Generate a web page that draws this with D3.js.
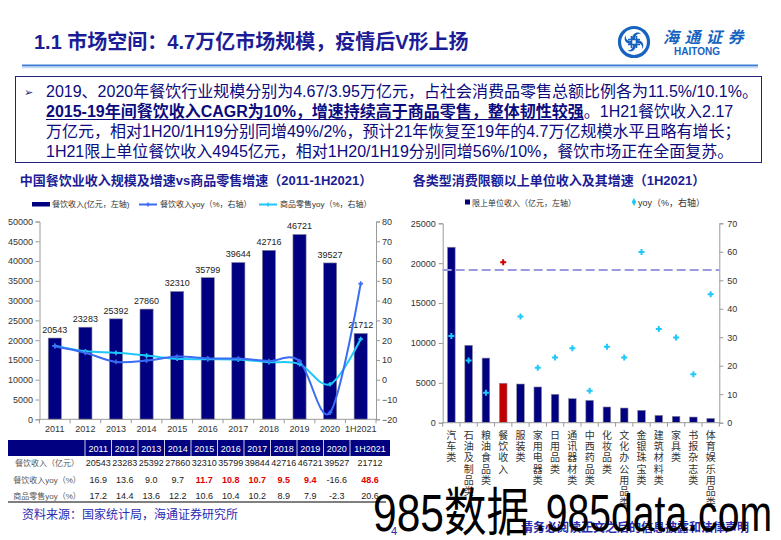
<!DOCTYPE html>
<html><head><meta charset="utf-8">
<script src="https://cdn.jsdelivr.net/npm/d3@7"></script>
<style>
html,body{margin:0;padding:0;background:#fff;}
svg{display:block;}
</style></head>
<body>
<svg id="c" width="781" height="540"></svg>
<script>
// ---------- DATA ----------
const years = ["2011","2012","2013","2014","2015","2016","2017","2018","2019","2020","1H2021"];
const revenue = [20543, 23283, 25392, 27860, 32310, 35799, 39644, 42716, 46721, 39527, 21712];
const revenueTable = ["20543","23283","25392","27860","32310","35799","39844","42716","46721","39527","21712"];
const cateringYoy = [16.9, 13.6, 9.0, 9.7, 11.7, 10.8, 10.7, 9.5, 9.4, -16.6, 48.6];
const retailYoy = [17.2, 14.4, 13.6, 12.2, 10.6, 10.4, 10.2, 8.9, 7.9, -2.3, 20.6];
const cateringYoyRed = [false,false,false,false,true,true,true,true,true,false,true];
const leftAxisTicks = [0,5000,10000,15000,20000,25000,30000,35000,40000,45000,50000];
const rightAxisTicks = [-20,-10,0,10,20,30,40,50,60,70,80];

const categories = ["汽车类","石油及制品类","粮油食品类","餐饮收入","服装类","家用电器类","日用品类","通讯器材类","中西药品类","化妆品类","文化办公用品类","金银珠宝类","建筑材料类","家具类","书报杂志类","体育娱乐用品类"];
const unitRevenue = [22000, 9700, 8100, 4945, 4850, 4480, 3560, 3010, 2800, 1970, 1840, 1550, 920, 800, 710, 540];
const unitYoy = [30.4, 21.8, 10.5, 56.3, 37.3, 19.3, 22.9, 26.1, 11.2, 26.7, 22.9, 59.9, 32.9, 29.9, 17.0, 45.1];
const highlightCategory = "餐饮收入";
const refLineYoy = 53.6;
const unitLeftTicks = [0,5000,10000,15000,20000,25000];
const unitRightTicks = [0,10,20,30,40,50,60,70];

const paragraphLines = [
  "2019、2020年餐饮行业规模分别为4.67/3.95万亿元，占社会消费品零售总额比例各为11.5%/10.1%。",
  ["2015-19年间餐饮收入CAGR为10%，增速持续高于商品零售，整体韧性较强", "。1H21餐饮收入2.17"],
  "万亿元，相对1H20/1H19分别同增49%/2%，预计21年恢复至19年的4.7万亿规模水平且略有增长；",
  "1H21限上单位餐饮收入4945亿元，相对1H20/1H19分别同增56%/10%，餐饮市场正在全面复苏。"
];

// ---------- STYLE ----------
const FONT = "'Liberation Sans', Arial, 'Noto Sans CJK SC', sans-serif";
const NAVY = "#0b0b7e";
const TITLE = "#1c1c96";
const BAR = "#000080";
const LINE1 = "#3a6cf4";
const LINE2 = "#1ec8fa";
const AX = "#9a9a9a";
const fmt = d3.format("d");

const svg = d3.select("#c").style("font-family", FONT);

// ---------- HEADER ----------
svg.append("text").attr("x", 34).attr("y", 49).attr("font-size", 20).attr("font-weight", "bold")
  .attr("fill", TITLE).text("1.1 市场空间：4.7万亿市场规模，疫情后V形上扬");

// logo
const logo = svg.append("g").attr("transform", "translate(634,42)");
logo.append("circle").attr("r", 14.5).attr("fill", "none").attr("stroke", "#1763c0").attr("stroke-width", 3.2);
[0, 90, 180, 270].forEach(a => {
  logo.append("path").attr("transform", `rotate(${a})`)
    .attr("d", "M-2,-3 C-2,-9 4,-11 7,-8 C4,-9 1,-7 1,-3 Z").attr("fill", "#1763c0");
});
logo.append("path").attr("d", "M-6,-2.5H6M-6,2.5H6M-2.5,-6V6M2.5,-6V6").attr("stroke", "#1763c0").attr("stroke-width", 1.6);
svg.append("text").attr("x", 663).attr("y", 43).attr("font-size", 16).attr("font-weight", "bold")
  .attr("font-style", "italic").attr("letter-spacing", 5.5).attr("fill", "#1763c0").text("海通证券");
svg.append("text").attr("x", 697).attr("y", 55).attr("text-anchor", "middle").attr("font-size", 10)
  .attr("font-weight", "bold").attr("fill", "#1763c0").text("HAITONG");

// rule under title
svg.append("line").attr("x1", 22).attr("x2", 758).attr("y1", 65.5).attr("y2", 65.5).attr("stroke", "#3f7fd6").attr("stroke-width", 2);
svg.append("line").attr("x1", 22).attr("x2", 758).attr("y1", 67.5).attr("y2", 67.5).attr("stroke", "#c6dcf5").attr("stroke-width", 1.5);

// ---------- PARAGRAPH BOX ----------
svg.append("rect").attr("x", 15.5).attr("y", 76.5).attr("width", 746).attr("height", 86)
  .attr("fill", "none").attr("stroke", "#22227a").attr("stroke-width", 1);
svg.append("text").attr("x", 24).attr("y", 96).attr("font-size", 11).attr("fill", "#22227a").text("➢");
const PFS = 16;
const lineY = [97, 117, 137, 157];
paragraphLines.forEach((ln, i) => {
  if (typeof ln === "string") {
    svg.append("text").attr("x", 46).attr("y", lineY[i]).attr("font-size", PFS).attr("fill", NAVY).text(ln);
  } else {
    const b = svg.append("text").attr("x", 46).attr("y", lineY[i]).attr("font-size", PFS)
      .attr("font-weight", "bold").attr("fill", NAVY).text(ln[0]);
    const w = b.node().getComputedTextLength();
    svg.append("line").attr("x1", 46).attr("x2", 46 + w).attr("y1", lineY[i] + 2.5).attr("y2", lineY[i] + 2.5)
      .attr("stroke", NAVY).attr("stroke-width", 1.2);
    svg.append("text").attr("x", 46 + w).attr("y", lineY[i]).attr("font-size", PFS).attr("fill", NAVY).text(ln[1]);
  }
});

// ---------- LEFT CHART ----------
svg.append("text").attr("x", 196).attr("y", 185).attr("text-anchor", "middle").attr("font-size", 13)
  .attr("font-weight", "bold").attr("fill", TITLE).text("中国餐饮业收入规模及增速vs商品零售增速（2011-1H2021）");

// legend
const lg = svg.append("g").attr("font-size", 8).attr("fill", "#333");
lg.append("rect").attr("x", 32).attr("y", 202).attr("width", 18).attr("height", 4.5).attr("fill", BAR);
lg.append("text").attr("x", 52).attr("y", 207).text("餐饮收入(亿元，左轴)");
lg.append("line").attr("x1", 139).attr("x2", 157).attr("y1", 204.5).attr("y2", 204.5).attr("stroke", LINE1).attr("stroke-width", 2);
lg.append("path").attr("d", d3.symbol(d3.symbolCross, 10)()).attr("transform", "translate(148,204.5)").attr("fill", LINE1);
lg.append("text").attr("x", 160).attr("y", 207).text("餐饮收入yoy（%，右轴）");
lg.append("line").attr("x1", 259).attr("x2", 277).attr("y1", 204.5).attr("y2", 204.5).attr("stroke", LINE2).attr("stroke-width", 2);
lg.append("path").attr("d", d3.symbol(d3.symbolCross, 10)()).attr("transform", "translate(268,204.5)").attr("fill", LINE2);
lg.append("text").attr("x", 280).attr("y", 207).text("商品零售yoy（%，右轴）");

const L = {x0: 39.5, x1: 376, y0: 419.3, y1: 221.5};
const xL = d3.scaleBand().domain(years).range([L.x0, L.x1]).paddingInner(0.57).paddingOuter(0.285);
const yL = d3.scaleLinear().domain([0, 50000]).range([L.y0, L.y1]);
const yR = d3.scaleLinear().domain([-20, 80]).range([L.y0, L.y1]);

function styleAxis(g) {
  g.select(".domain").attr("stroke", AX);
  g.selectAll(".tick line").attr("stroke", AX);
  g.selectAll(".tick text").attr("fill", "#333").attr("font-size", 9).attr("font-family", FONT);
}
svg.append("g").attr("transform", `translate(${L.x0},0)`)
  .call(d3.axisLeft(yL).tickValues(leftAxisTicks).tickFormat(fmt).tickSize(4).tickPadding(2.5).tickSizeOuter(4)).call(styleAxis);
svg.append("g").attr("transform", `translate(${L.x1},0)`)
  .call(d3.axisRight(yR).tickValues(rightAxisTicks).tickFormat(fmt).tickSize(4).tickPadding(2).tickSizeOuter(4)).call(styleAxis);

// bars
svg.append("g").selectAll("rect").data(revenue).join("rect")
  .attr("x", (d, i) => xL(years[i])).attr("width", xL.bandwidth())
  .attr("y", d => yL(d)).attr("height", d => yL(0) - yL(d))
  .attr("fill", BAR).attr("stroke", "#8a8a9a").attr("stroke-width", 0.6);
svg.append("g").selectAll("text").data(revenue).join("text")
  .attr("x", (d, i) => xL(years[i]) + xL.bandwidth() / 2).attr("y", d => yL(d) - 5)
  .attr("text-anchor", "middle").attr("font-size", 9).attr("fill", "#222").text(d => d);

// x axis
svg.append("line").attr("x1", L.x0).attr("x2", L.x1).attr("y1", L.y0).attr("y2", L.y0).attr("stroke", AX);
const stepL = xL.step();
years.forEach((y, i) => {
  const bx = xL(y) - xL.paddingInner() * stepL / 2;
  svg.append("line").attr("x1", bx).attr("x2", bx).attr("y1", L.y0).attr("y2", L.y0 + 4).attr("stroke", AX);
  svg.append("text").attr("x", xL(y) + xL.bandwidth() / 2).attr("y", L.y0 + 12.5).attr("text-anchor", "middle")
    .attr("font-size", 9).attr("fill", "#333").text(y);
});
svg.append("line").attr("x1", L.x1).attr("x2", L.x1).attr("y1", L.y0).attr("y2", L.y0 + 4).attr("stroke", AX);

// lines
const lineGen = d3.line().x((d, i) => xL(years[i]) + xL.bandwidth() / 2).y(d => yR(d)).curve(d3.curveCatmullRom.alpha(0));
svg.append("path").datum(retailYoy).attr("d", lineGen).attr("fill", "none").attr("stroke", LINE2).attr("stroke-width", 2);
svg.append("path").datum(cateringYoy).attr("d", lineGen).attr("fill", "none").attr("stroke", LINE1).attr("stroke-width", 2);
[[retailYoy, LINE2], [cateringYoy, LINE1]].forEach(([arr, col]) => {
  svg.append("g").selectAll("path").data(arr).join("path")
    .attr("d", d3.symbol(d3.symbolCross, 12)())
    .attr("transform", (d, i) => `translate(${xL(years[i]) + xL.bandwidth() / 2},${yR(d)})`).attr("fill", col);
});

// table
const T = {x0: 8, labelEnd: 85, colW: 26.5, lastEnd: 390, hy: 440, hh: 16};
const colX = i => i < 10 ? T.labelEnd + i * T.colW : T.labelEnd + 10 * T.colW;
const colW = i => i < 10 ? T.colW : T.lastEnd - colX(10);
svg.append("rect").attr("x", T.x0).attr("y", T.hy).attr("width", T.lastEnd - T.x0).attr("height", T.hh).attr("fill", BAR);
years.forEach((y, i) => {
  svg.append("line").attr("x1", colX(i)).attr("x2", colX(i)).attr("y1", T.hy).attr("y2", T.hy + T.hh).attr("stroke", "#ffffff").attr("stroke-width", 0.8);
  svg.append("text").attr("x", colX(i) + colW(i) / 2).attr("y", T.hy + 11.5).attr("text-anchor", "middle")
    .attr("font-size", 9).attr("fill", "#fff").text(y);
});
const rowLabels = ["餐饮收入（亿元）", "餐饮收入yoy（%）", "商品零售yoy（%）"];
const rowData = [revenueTable, cateringYoy.map(v => v.toFixed(1)), retailYoy.map(v => v.toFixed(1))];
const rowY = [466, 483, 499];
rowLabels.forEach((lab, r) => {
  svg.append("text").attr("x", 47).attr("y", rowY[r]).attr("text-anchor", "middle").attr("font-size", 8).attr("fill", "#555").text(lab);
  rowData[r].forEach((v, i) => {
    const red = r === 1 && cateringYoyRed[i];
    svg.append("text").attr("x", colX(i) + colW(i) / 2).attr("y", rowY[r]).attr("text-anchor", "middle")
      .attr("font-size", 9).attr("font-weight", red ? "bold" : "normal").attr("fill", red ? "#e00000" : "#222").text(v);
  });
});
svg.append("line").attr("x1", T.x0).attr("x2", 386).attr("y1", 502).attr("y2", 502).attr("stroke", "#000").attr("stroke-width", 1.2);

svg.append("text").attr("x", 22).attr("y", 519).attr("font-size", 12).attr("fill", "#2b2bb0").text("资料来源：国家统计局，海通证券研究所");

// ---------- RIGHT CHART ----------
svg.append("text").attr("x", 559).attr("y", 185).attr("text-anchor", "middle").attr("font-size", 13)
  .attr("font-weight", "bold").attr("fill", TITLE).text("各类型消费限额以上单位收入及其增速（1H2021）");
const rg = svg.append("g").attr("font-size", 8).attr("fill", "#333");
rg.append("rect").attr("x", 465).attr("y", 199.5).attr("width", 5).attr("height", 5).attr("fill", BAR);
rg.append("text").attr("x", 472).attr("y", 205.5).text("限上单位收入（亿元，左轴）");
rg.append("path").attr("d", d3.symbol(d3.symbolDiamond, 18)()).attr("transform", "translate(634,202)").attr("fill", LINE2);
rg.append("text").attr("x", 638).attr("y", 205.5).attr("font-size", 9).text("yoy（%，右轴）");

const R = {x0: 442.7, x1: 719.3, y0: 422.7, y1: 223.3};
const xC = d3.scaleBand().domain(categories).range([R.x0, R.x1]).paddingInner(0.56).paddingOuter(0.28);
const yCL = d3.scaleLinear().domain([0, 25000]).range([R.y0, R.y1]);
const yCR = d3.scaleLinear().domain([0, 70]).range([R.y0, R.y1]);
svg.append("g").attr("transform", `translate(${R.x0},0)`)
  .call(d3.axisLeft(yCL).tickValues(unitLeftTicks).tickFormat(fmt).tickSize(4).tickPadding(3).tickSizeOuter(4)).call(styleAxis);
svg.append("g").attr("transform", `translate(${R.x1},0)`)
  .call(d3.axisRight(yCR).tickValues(unitRightTicks).tickFormat(fmt).tickSize(4).tickPadding(4).tickSizeOuter(4)).call(styleAxis);

svg.append("g").selectAll("rect").data(unitRevenue).join("rect")
  .attr("x", (d, i) => xC(categories[i])).attr("width", xC.bandwidth())
  .attr("y", d => yCL(d)).attr("height", d => yCL(0) - yCL(d))
  .attr("fill", (d, i) => categories[i] === highlightCategory ? "#c00000" : BAR)
  .attr("stroke", "#8a8a9a").attr("stroke-width", 0.6);

svg.append("line").attr("x1", R.x0).attr("x2", R.x1).attr("y1", R.y0).attr("y2", R.y0).attr("stroke", AX);
const stepC = xC.step();
categories.forEach((c, i) => {
  const bx = R.x0 + i * stepC;
  svg.append("line").attr("x1", bx).attr("x2", bx).attr("y1", R.y0).attr("y2", R.y0 + 4).attr("stroke", AX);
  const cx = xC(c) + xC.bandwidth() / 2;
  Array.from(c).forEach((ch, k) => {
    svg.append("text").attr("x", cx).attr("y", 439 + k * 11.2).attr("text-anchor", "middle")
      .attr("font-size", 10).attr("fill", "#333").text(ch);
  });
});
svg.append("line").attr("x1", R.x1).attr("x2", R.x1).attr("y1", R.y0).attr("y2", R.y0 + 4).attr("stroke", AX);

svg.append("line").attr("x1", R.x0).attr("x2", R.x1).attr("y1", yCR(refLineYoy)).attr("y2", yCR(refLineYoy))
  .attr("stroke", "#9a9ae0").attr("stroke-width", 2).attr("stroke-dasharray", "9,4");

svg.append("g").selectAll("path").data(unitYoy).join("path")
  .attr("d", d3.symbol(d3.symbolCross, 20)())
  .attr("transform", (d, i) => `translate(${xC(categories[i]) + xC.bandwidth() / 2},${yCR(d)})`)
  .attr("fill", (d, i) => categories[i] === highlightCategory ? "#cc0000" : LINE2);

// ---------- FOOTER ----------
svg.append("text").attr("x", 394).attr("y", 535).attr("text-anchor", "middle").attr("font-size", 11).attr("fill", "#2b2bb0").text("4");
svg.append("text").attr("x", 521).attr("y", 532).attr("font-size", 12).attr("font-weight", "bold").attr("fill", "#2b2bb0").text("请务必阅读正文之后的信息披露和法律声明");

// watermark
svg.append("text").attr("x", 373).attr("y", 531).attr("font-size", 52).attr("fill", "#000")
  .attr("textLength", 156).attr("lengthAdjust", "spacingAndGlyphs").text("985数据");
svg.append("text").attr("x", 535).attr("y", 531).attr("font-size", 52).attr("fill", "#000")
  .attr("textLength", 237).attr("lengthAdjust", "spacingAndGlyphs").text(".985data.com");
</script>
</body></html>
